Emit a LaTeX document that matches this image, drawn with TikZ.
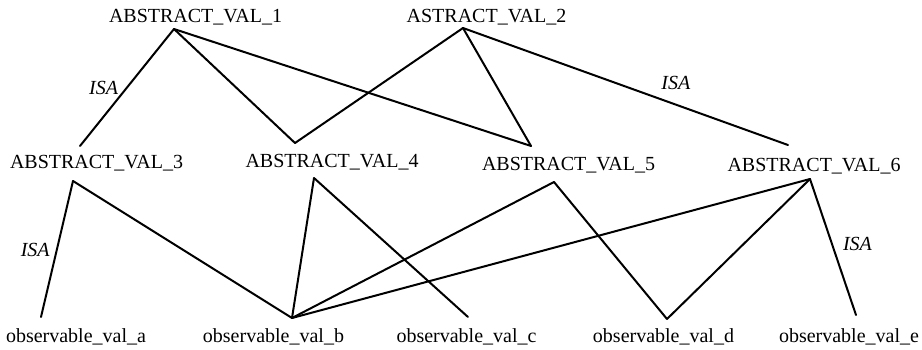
\documentclass[tikz,border=0pt]{standalone}
\usepackage{fontspec}
\setmainfont{Liberation Serif}
\usetikzlibrary{positioning}

\begin{document}
\begin{tikzpicture}[
  x=1pt, y=-1pt,
  val/.style={anchor=base, inner sep=0pt, font=\fontsize{20}{24}\selectfont},
  isa/.style={inner sep=0pt, font=\fontsize{20}{24}\selectfont\itshape},
  link/.style={line width=2pt, line cap=round}
]
\useasboundingbox (0,0) rectangle (922,349);

% abstract values
\node[val] (a1) at (195.5,22) {ABSTRACT\_VAL\_1};
\node[val] (a2) at (486.5,22) {ASTRACT\_VAL\_2};
\node[val] (a3) at (96.5,168) {ABSTRACT\_VAL\_3};
\node[val] (a4) at (332,167) {ABSTRACT\_VAL\_4};
\node[val] (a5) at (568.5,170) {ABSTRACT\_VAL\_5};
\node[val] (a6) at (814,171) {ABSTRACT\_VAL\_6};

% observable values
\node[val] (o1) at (76,342) {observable\_val\_a};
\node[val] (o2) at (273.5,342) {observable\_val\_b};
\node[val] (o3) at (466.5,342) {observable\_val\_c};
\node[val] (o4) at (663.5,342) {observable\_val\_d};
\node[val] (o5) at (849,342) {observable\_val\_e};

% where the lines meet the labels
\coordinate (a1-b) at ([shift={(-21.5,7)}]a1.base);
\coordinate (a2-b) at ([shift={(-23.5,6)}]a2.base);
\coordinate (a3-t) at ([shift={(-16.5,-22)}]a3.base);
\coordinate (a3-b) at ([shift={(-23.5,13)}]a3.base);
\coordinate (a4-t) at ([shift={(-37,-24)}]a4.base);
\coordinate (a4-b) at ([shift={(-18,11)}]a4.base);
\coordinate (a5-t) at ([shift={(-37.5,-24)}]a5.base);
\coordinate (a5-b) at ([shift={(-14.5,12)}]a5.base);
\coordinate (a6-t) at ([shift={(-26,-26)}]a6.base);
\coordinate (a6-b) at ([shift={(-4,8)}]a6.base);
\coordinate (o1-t) at ([shift={(-35,-25)}]o1.base);
\coordinate (o2-t) at ([shift={(18.5,-24)}]o2.base);
\coordinate (o3-t) at ([shift={(1.5,-25)}]o3.base);
\coordinate (o4-t) at ([shift={(3.5,-23)}]o4.base);
\coordinate (o5-t) at ([shift={(7,-27)}]o5.base);

\draw[link] (a1-b) -- node[isa, midway, left=8pt] {ISA} (a3-t);
\draw[link] (a1-b) -- (a4-t);
\draw[link] (a1-b) -- (a5-t);
\draw[link] (a2-b) -- (a4-t);
\draw[link] (a2-b) -- (a5-t);
\draw[link] (a2-b) -- node[isa, pos=0.655, above=14pt] {ISA} (a6-t);

\draw[link] (a3-b) -- node[isa, pos=0.51, left=6pt] {ISA} (o1-t);
\draw[link] (a3-b) -- (o2-t);
\draw[link] (a4-b) -- (o2-t);
\draw[link] (a4-b) -- (o3-t);
\draw[link] (a5-b) -- (o2-t);
\draw[link] (a5-b) -- (o4-t);
\draw[link] (a6-b) -- (o2-t);
\draw[link] (a6-b) -- (o4-t);
\draw[link] (a6-b) -- node[isa, pos=0.48, right=10pt] {ISA} (o5-t);
\end{tikzpicture}
\end{document}
